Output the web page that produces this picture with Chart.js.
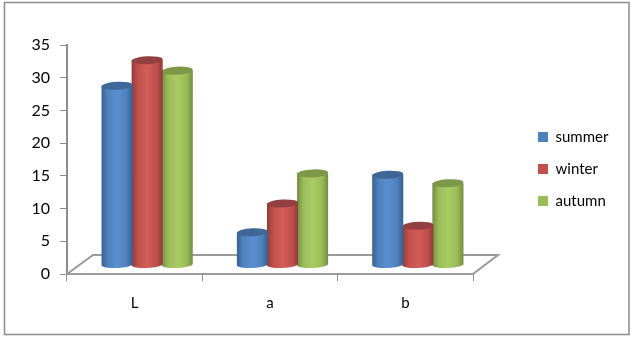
<!DOCTYPE html>
<html>
<head>
<meta charset="utf-8">
<script src="https://cdn.jsdelivr.net/npm/chart.js"></script>
<style>
  html, body { margin: 0; padding: 0; background: #fff; }
  #wrap { width: 631px; height: 338px; position: relative; }
</style>
</head>
<body>
<div id="wrap"><canvas id="myChart" width="631" height="338"></canvas></div>
<script>
const categories = ['L', 'a', 'b']
const seriesNames = ['summer', 'winter', 'autumn']
const summer = [27.4, 5, 13.8]
const winter = [31.3, 9.4, 6]
const autumn = [29.7, 14, 12.5]
const yTicks = [0, 5, 10, 15, 20, 25, 30, 35]

// base, light, dark, top cap
const colors = [
  ['#4f81bd', '#5a8fd0', '#38608f', '#3f6797'],
  ['#c0504d', '#d25d59', '#8f3c3a', '#934040'],
  ['#9bbb59', '#a9cc62', '#738c42', '#7e9748']
]

const fontFamily = 'Lato, "Open Sans", sans-serif'
const depthX = 26
const depthY = 19

const cylinders = {
  id: 'cylinders',
  beforeInit(chart) {
    // the legend takes everything right of the plot, as in the original
    const fit = chart.legend.fit
    chart.legend.fit = function () {
      fit.call(this)
      this.width = 158
    }
  },
  afterLayout(chart) {
    chart.legend.left = 521
    chart.legend.top = 45
    chart.legend.bottom = 293
  },
  beforeDraw(chart) {
    // outer frame of the chart
    const { ctx } = chart
    ctx.save()
    ctx.fillStyle = '#fff'
    ctx.fillRect(0, 0, chart.width, chart.height)
    ctx.lineWidth = 1.5
    ctx.strokeStyle = '#8c8c8c'
    ctx.strokeRect(4.5, 2.5, 624.5, 332)
    ctx.restore()
  },
  beforeDatasetsDraw(chart) {
    // 3D floor behind the bars
    const { ctx, chartArea: a } = chart
    ctx.save()
    ctx.beginPath()
    ctx.moveTo(a.left, a.bottom)
    ctx.lineTo(a.left + depthX, a.bottom - depthY)
    ctx.lineTo(a.right + depthX - 1, a.bottom - depthY)
    ctx.lineTo(a.right, a.bottom)
    ctx.closePath()
    ctx.lineWidth = 2
    ctx.strokeStyle = '#9a9a9a'
    ctx.stroke()
    ctx.restore()
  },
  beforeDatasetDraw(chart, args) {
    const { ctx } = chart
    const c = colors[args.index]
    const shiftX = 12.5
    const shiftY = -9
    const ry = 4
    args.meta.data.forEach(bar => {
      const w = bar.width + 1
      const left = bar.x + shiftX - w / 2
      const right = left + w
      const cx = left + w / 2
      const top = bar.y + shiftY
      const bottom = bar.base + shiftY
      const g = ctx.createLinearGradient(left, 0, right, 0)
      g.addColorStop(0, c[2])
      g.addColorStop(0.2, c[0])
      g.addColorStop(0.5, c[1])
      g.addColorStop(0.8, c[0])
      g.addColorStop(1, c[2])
      ctx.save()
      ctx.beginPath()
      ctx.moveTo(left, top)
      ctx.lineTo(left, bottom)
      ctx.ellipse(cx, bottom, w / 2, ry - 0.5, -0.05, Math.PI, 0, true)
      ctx.lineTo(right, top)
      ctx.closePath()
      ctx.fillStyle = g
      ctx.fill()
      ctx.beginPath()
      ctx.ellipse(cx, top, w / 2, ry, -0.05, 0, Math.PI * 2)
      ctx.fillStyle = c[3]
      ctx.fill()
      ctx.restore()
    })
    return false
  }
}

new Chart(document.getElementById('myChart').getContext('2d'), {
  type: 'bar',
  data: {
    labels: categories,
    datasets: [
      { label: seriesNames[0], data: summer, backgroundColor: colors[0][0] },
      { label: seriesNames[1], data: winter, backgroundColor: colors[1][0] },
      { label: seriesNames[2], data: autumn, backgroundColor: colors[2][0] }
    ]
  },
  plugins: [cylinders],
  options: {
    responsive: false,
    animation: false,
    layout: { padding: { top: 45, left: 0, right: 0, bottom: 0 } },
    categoryPercentage: 0.667,
    barPercentage: 1,
    scales: {
      x: {
        offset: true,
        afterFit(axis) { axis.height = 64 },
        grid: { drawOnChartArea: false, offset: true, color: '#8c8c8c', tickLength: 7, tickWidth: 1 },
        border: { color: '#8c8c8c', width: 2 },
        ticks: { color: '#000', font: { family: fontFamily, size: 15 }, padding: 13, maxRotation: 0 }
      },
      y: {
        min: 0,
        max: 35,
        afterFit(axis) { axis.width = 67 },
        afterBuildTicks(axis) { axis.ticks = yTicks.map(v => ({ value: v })) },
        grid: { drawOnChartArea: false, color: '#8c8c8c', tickLength: 7, tickWidth: 1 },
        border: { color: '#8c8c8c', width: 2 },
        ticks: { color: '#000', font: { family: fontFamily, size: 16 }, padding: 10 }
      }
    },
    plugins: {
      tooltip: { enabled: false },
      legend: {
        position: 'right',
        labels: {
          boxWidth: 10,
          boxHeight: 10,
          padding: 17,
          color: '#000',
          font: { family: fontFamily, size: 15 }
        }
      }
    }
  }
})
</script>
</body>
</html>
